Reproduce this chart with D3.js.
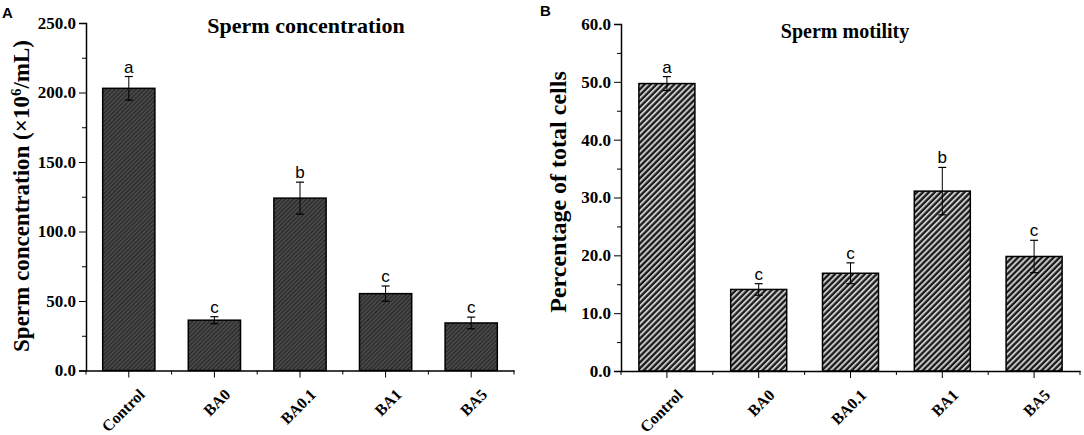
<!DOCTYPE html>
<html>
<head>
<meta charset="utf-8">
<script src="https://d3js.org/d3.v7.min.js"></script>
<style>
  body { margin: 0; background: #fff; }
  svg { display: block; }
</style>
</head>
<body>
<div class="container"></div>
<script>
// data
var groups = ["Control", "BA0", "BA0.1", "BA1", "BA5"];

var concMean = [203, 36.2, 124, 55.3, 34.2];
var concErr = [8.5, 2.5, 11.5, 5.5, 4.2];
var concLetters = ["a", "c", "b", "c", "c"];
var concMajor = [0, 50, 100, 150, 200, 250];
var concMinor = [25, 75, 125, 175, 225];

var motMean = [49.7, 14.1, 16.9, 31.1, 19.8];
var motErr = [1.2, 1.0, 1.8, 4.1, 2.8];
var motLetters = ["a", "c", "c", "b", "c"];
var motMajor = [0, 10, 20, 30, 40, 50, 60];
var motMinor = [5, 15, 25, 35, 45, 55];

var W = 1084, H = 435;
var serif = "'Liberation Serif', 'Times New Roman', serif";
var sans = "'Liberation Sans', Arial, sans-serif";

var svg = d3.select(".container").append("svg")
    .attr("width", W)
    .attr("height", H);

// hatch fills
var defs = svg.append("defs");
var pA = defs.append("pattern")
    .attr("id", "hatchA")
    .attr("patternUnits", "userSpaceOnUse")
    .attr("width", 3).attr("height", 3)
    .attr("patternTransform", "rotate(45)");
pA.append("rect").attr("width", 3).attr("height", 3).attr("fill", "#484848");
pA.append("line").attr("x1", 0).attr("y1", 0).attr("x2", 0).attr("y2", 3)
    .attr("stroke", "#161616").attr("stroke-width", 1.4);

var pB = defs.append("pattern")
    .attr("id", "hatchB")
    .attr("patternUnits", "userSpaceOnUse")
    .attr("width", 4.2).attr("height", 4.2)
    .attr("patternTransform", "rotate(45)");
pB.append("rect").attr("width", 4.2).attr("height", 4.2).attr("fill", "#1a1a1a");
pB.append("line").attr("x1", 1).attr("y1", 0).attr("x2", 1).attr("y2", 4.2)
    .attr("stroke", "#cfcfcf").attr("stroke-width", 1.9);

function drawPanel(opt) {
    var g = svg.append("g");
    var x = d3.scaleBand()
        .domain(groups)
        .range([opt.left, opt.right])
        .paddingInner(0.39)
        .paddingOuter(0.195);
    var y = d3.scaleLinear()
        .domain([0, opt.max])
        .range([opt.bottom, opt.top]);
    var step = x.step();
    var bw = x.bandwidth();
    var cx = function (d, i) { return x(groups[i]) + bw / 2; };

    // bars
    g.selectAll("rect.bar")
        .data(opt.mean)
        .enter().append("rect")
        .attr("class", "bar")
        .attr("x", function (d, i) { return x(groups[i]); })
        .attr("y", function (d) { return y(d); })
        .attr("width", bw)
        .attr("height", function (d) { return y(0) - y(d); })
        .attr("fill", opt.fill)
        .attr("stroke", "#000")
        .attr("stroke-width", 1.5);

    // error bars
    var eb = g.selectAll("g.err")
        .data(opt.mean)
        .enter().append("g")
        .attr("class", "err");
    eb.append("line")
        .attr("x1", cx).attr("x2", cx)
        .attr("y1", function (d, i) { return y(d - opt.err[i]); })
        .attr("y2", function (d, i) { return y(d + opt.err[i]); })
        .attr("stroke", "#000").attr("stroke-width", 1);
    eb.append("line")
        .attr("x1", function (d, i) { return cx(d, i) - 4; })
        .attr("x2", function (d, i) { return cx(d, i) + 4; })
        .attr("y1", function (d, i) { return y(d + opt.err[i]); })
        .attr("y2", function (d, i) { return y(d + opt.err[i]); })
        .attr("stroke", "#000").attr("stroke-width", 1.2);
    eb.append("line")
        .attr("x1", function (d, i) { return cx(d, i) - 4; })
        .attr("x2", function (d, i) { return cx(d, i) + 4; })
        .attr("y1", function (d, i) { return y(d - opt.err[i]); })
        .attr("y2", function (d, i) { return y(d - opt.err[i]); })
        .attr("stroke", "#000").attr("stroke-width", 1.2);

    // significance letters
    g.selectAll("text.sig")
        .data(opt.mean)
        .enter().append("text")
        .attr("class", "sig")
        .text(function (d, i) { return opt.letters[i]; })
        .attr("x", cx)
        .attr("y", function (d, i) { return y(d + opt.err[i]) - 4; })
        .attr("text-anchor", "middle")
        .attr("font-family", sans)
        .attr("font-size", 17)
        .attr("fill", "#000");

    // y axis
    var yAxis = g.append("g")
        .attr("transform", "translate(" + opt.left + ",0)")
        .call(d3.axisLeft(y).tickValues(opt.major).tickSize(7).tickPadding(3)
            .tickFormat(d3.format(".1f")));
    g.append("g")
        .attr("transform", "translate(" + opt.left + ",0)")
        .call(d3.axisLeft(y).tickValues(opt.minor).tickSize(4).tickFormat(""))
        .select(".domain").remove();
    yAxis.selectAll("text")
        .attr("font-family", serif)
        .attr("font-weight", "bold")
        .attr("font-size", 17)
        .attr("fill", "#000");

    // x axis: major ticks at group centres, minor ticks at band edges
    g.append("g")
        .attr("transform", "translate(0," + opt.bottom + ")")
        .call(d3.axisBottom(x).tickSize(7).tickSizeOuter(0).tickFormat(""));
    g.selectAll("line.xminor")
        .data(d3.range(groups.length + 1))
        .enter().append("line")
        .attr("class", "xminor")
        .attr("x1", function (i) { return opt.left + i * step; })
        .attr("x2", function (i) { return opt.left + i * step; })
        .attr("y1", opt.bottom)
        .attr("y2", opt.bottom + 4)
        .attr("stroke", "#000");
    g.selectAll(".domain").attr("stroke-width", 1.5);

    // slanted category labels
    g.selectAll("text.xlab")
        .data(groups)
        .enter().append("text")
        .attr("class", "xlab")
        .text(function (d) { return d; })
        .attr("transform", function (d) {
            return "translate(" + (x(d) + bw / 2 + 17) + "," + (opt.bottom + 25) + ") rotate(-45)";
        })
        .attr("text-anchor", "end")
        .attr("font-family", serif)
        .attr("font-weight", "bold")
        .attr("font-size", 16)
        .attr("fill", "#000");

    // y label
    g.append("text")
        .attr("transform", "translate(" + opt.labelX + "," + opt.labelY + ") rotate(-90)")
        .attr("text-anchor", "middle")
        .attr("font-family", serif)
        .attr("font-weight", "bold")
        .attr("font-size", opt.labelSize)
        .html(opt.ylabel);

    // title
    g.append("text")
        .text(opt.title)
        .attr("x", opt.titleX)
        .attr("y", opt.titleY)
        .attr("text-anchor", "middle")
        .attr("font-family", serif)
        .attr("font-weight", "bold")
        .attr("font-size", opt.titleSize);

    // panel letter
    g.append("text")
        .text(opt.tag)
        .attr("x", opt.tagX)
        .attr("y", opt.tagY)
        .attr("font-family", sans)
        .attr("font-weight", "bold")
        .attr("font-size", 15);
}

drawPanel({
    left: 86, right: 514, top: 23, bottom: 370.5,
    max: 250, mean: concMean, err: concErr, letters: concLetters,
    major: concMajor, minor: concMinor, fill: "url(#hatchA)",
    ylabel: "Sperm concentration (×10<tspan dy='-8' font-size='15'>6</tspan><tspan dy='8'>/mL)</tspan>",
    labelX: 29, labelY: 196, labelSize: 23,
    title: "Sperm concentration", titleX: 306, titleY: 33, titleSize: 22,
    tag: "A", tagX: 2, tagY: 18
});

drawPanel({
    left: 621, right: 1080, top: 24, bottom: 371,
    max: 60, mean: motMean, err: motErr, letters: motLetters,
    major: motMajor, minor: motMinor, fill: "url(#hatchB)",
    ylabel: "Percentage of total cells",
    labelX: 566, labelY: 192, labelSize: 24,
    title: "Sperm motility", titleX: 845, titleY: 38, titleSize: 20,
    tag: "B", tagX: 540, tagY: 16
});
</script>
</body>
</html>
